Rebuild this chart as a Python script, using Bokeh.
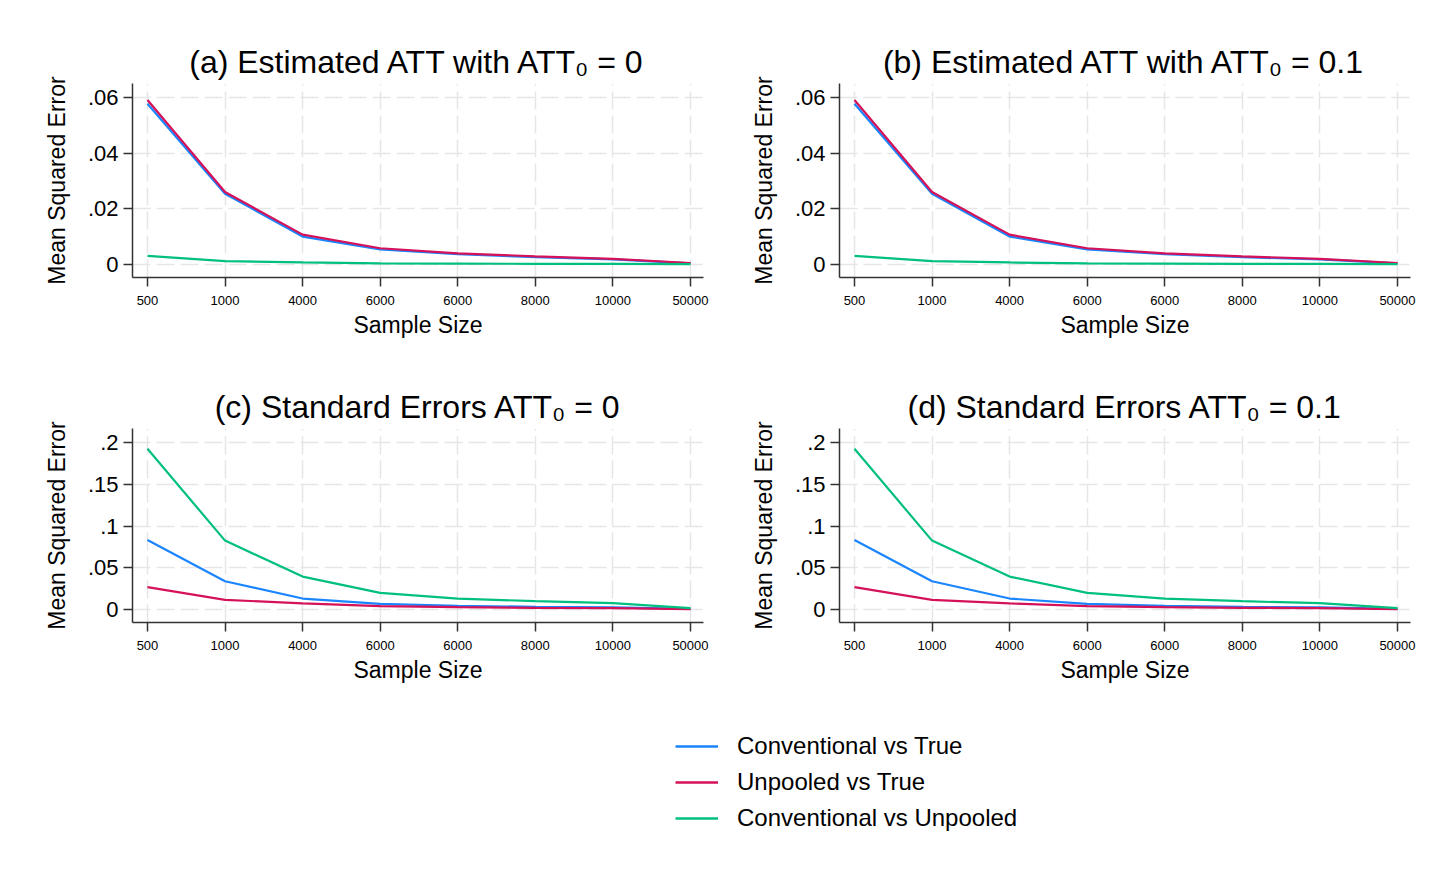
from bokeh.plotting import figure
from bokeh.models import FixedTicker, CustomJSTickFormatter, Range1d, Legend, LegendItem
from bokeh.layouts import column, row
from bokeh.embed import file_html
from bokeh.resources import INLINE

# ---- data ----
sample_labels = ["500", "1000", "4000", "6000", "6000", "8000", "10000", "50000"]
xpos = list(range(len(sample_labels)))

# (a)/(b) Estimated ATT - mean squared error
est_conv_true = [0.0577, 0.0254, 0.0100, 0.0054, 0.0037, 0.0026, 0.0018, 0.0004]
est_unp_true = [0.0591, 0.0260, 0.0107, 0.0058, 0.0040, 0.0029, 0.0020, 0.0005]
est_conv_unp = [0.0031, 0.0012, 0.0007, 0.0004, 0.0003, 0.0002, 0.0002, 0.0001]

# (c)/(d) Standard errors - mean squared error
se_conv_true = [0.0832, 0.0338, 0.0131, 0.0067, 0.0044, 0.0032, 0.0024, 0.0008]
se_unp_true = [0.0267, 0.0116, 0.0072, 0.0040, 0.0028, 0.0020, 0.0016, 0.0004]
se_conv_unp = [0.1925, 0.0825, 0.0394, 0.0199, 0.0131, 0.0099, 0.0075, 0.0016]

est_yticks = [0, 0.02, 0.04, 0.06]
se_yticks = [0, 0.05, 0.1, 0.15, 0.2]

series_names = ["Conventional vs True", "Unpooled vs True", "Conventional vs Unpooled"]
colors = ["#1a85ff", "#d41159", "#00bf7f"]

FONT = "Liberation Sans"


def make_panel(title, series, yticks, yrange, bl, br, bt, w, h):
    p = figure(width=w, height=h, x_range=Range1d(-0.193, 7.168),
               y_range=Range1d(*yrange), output_backend="svg",
               toolbar_location=None, min_border_left=bl, min_border_right=br,
               min_border_top=bt, min_border_bottom=76)
    p.title.text = title
    p.title.text_font = FONT
    p.title.text_font_size = "32px"
    p.title.text_font_style = "normal"
    p.title.text_color = "black"
    p.title.align = "center"
    p.title.standoff = 7
    p.outline_line_color = None

    for ys, c in zip(series, colors):
        p.line(xpos, ys, line_color=c, line_width=2.2)

    p.xaxis.ticker = FixedTicker(ticks=xpos)
    p.xaxis.major_label_overrides = {i: lab for i, lab in zip(xpos, sample_labels)}
    p.yaxis.ticker = FixedTicker(ticks=yticks)
    p.yaxis.formatter = CustomJSTickFormatter(
        code="const s = parseFloat(tick.toFixed(4)).toString(); return s.replace(/^0\\./, '.');")

    for ax in (p.xaxis[0], p.yaxis[0]):
        ax.axis_line_color = "#333333"
        ax.axis_line_width = 1.5
        ax.major_tick_line_color = "#333333"
        ax.major_tick_line_width = 1.5
        ax.major_tick_out = 9
        ax.major_tick_in = 0
        ax.minor_tick_line_color = None
        ax.major_label_text_font = FONT
        ax.major_label_text_color = "black"
        ax.axis_label_text_font = FONT
        ax.axis_label_text_font_style = "normal"
        ax.axis_label_text_color = "black"
        ax.axis_label_text_font_size = "23px"

    p.xaxis.axis_label = "Sample Size"
    p.xaxis.major_label_text_font_size = "13px"
    p.xaxis.major_label_standoff = 9
    p.xaxis.axis_label_standoff = 4
    p.yaxis.axis_label = "Mean Squared Error"
    p.yaxis.major_label_text_font_size = "22px"
    p.yaxis.major_label_standoff = 5
    p.yaxis.axis_label_standoff = 15

    for g in (p.xgrid[0], p.ygrid[0]):
        g.grid_line_color = "#e6e6e6"
        g.grid_line_width = 1.5
        g.grid_line_dash = "18 6"
    return p


pa = make_panel("(a) Estimated ATT with ATT\u2080 = 0",
                [est_conv_true, est_unp_true, est_conv_unp], est_yticks,
                (-0.0047, 0.065), 132, 25, 83, 728, 353)
pb = make_panel("(b) Estimated ATT with ATT\u2080 = 0.1",
                [est_conv_true, est_unp_true, est_conv_unp], est_yticks,
                (-0.0047, 0.065), 111, 37, 83, 719, 353)
pc = make_panel("(c) Standard Errors ATT\u2080 = 0",
                [se_conv_true, se_unp_true, se_conv_unp], se_yticks,
                (-0.0156, 0.2168), 132, 25, 75, 728, 345)
pd_ = make_panel("(d) Standard Errors ATT\u2080 = 0.1",
                 [se_conv_true, se_unp_true, se_conv_unp], se_yticks,
                 (-0.0156, 0.2168), 111, 37, 75, 719, 345)

# ---- legend panel (series drawn off-frame; only their legend samples show) ----
lf = figure(width=1447, height=165, output_backend="svg", toolbar_location=None,
            x_range=Range1d(-20, -19), y_range=Range1d(-20, -19), min_border=0,
            x_axis_location=None, y_axis_location=None)
lf.outline_line_color = None
lf.grid.visible = False
items = []
for name, ys, c in zip(series_names, [est_conv_true, est_unp_true, est_conv_unp], colors):
    r = lf.line(xpos, ys, line_color=c, line_width=2.5)
    items.append(LegendItem(label=name, renderers=[r]))
leg = Legend(items=items, location=(675, 30), orientation="vertical",
             glyph_width=43, glyph_height=30, label_height=30, label_standoff=19,
             spacing=6, padding=0, margin=0, border_line_color=None,
             background_fill_alpha=0, label_text_font=FONT,
             label_text_font_size="24px", label_text_color="black")
lf.add_layout(leg, "center")

layout = column(row(pa, pb), row(pc, pd_), lf)
open("out.html", "w").write(file_html(layout, INLINE))
